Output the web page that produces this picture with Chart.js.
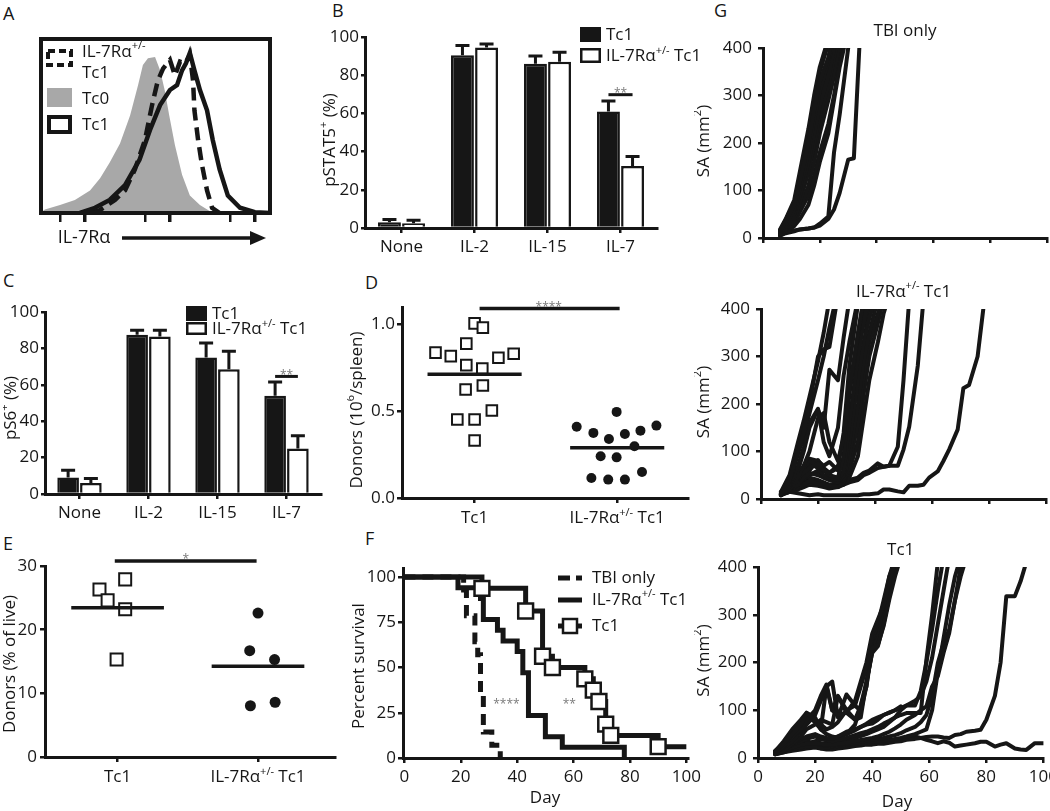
<!DOCTYPE html>
<html lang="en">
<head>
<meta charset="utf-8">
<title>IL-7Rα Tc1 figure</title>
<script src="https://cdn.jsdelivr.net/npm/chart.js@4.4.1/dist/chart.umd.min.js"></script>
<style>
  html, body { margin: 0; padding: 0; background: #fff; }
  body { position: relative; width: 1050px; height: 811px; overflow: hidden; font-family: 'Open Sans', sans-serif; color: #161616; }
  canvas { position: absolute; }
  .tag { position: absolute; font-size: 18px; line-height: 1; }
</style>
</head>
<body>
<div class="tag" style="left:3px;top:4px">A</div>
<div class="tag" style="left:332px;top:1px">B</div>
<div class="tag" style="left:3px;top:271px">C</div>
<div class="tag" style="left:365px;top:273px">D</div>
<div class="tag" style="left:3px;top:534px">E</div>
<div class="tag" style="left:365px;top:529px">F</div>
<div class="tag" style="left:714px;top:1px">G</div>

<canvas id="chartA"></canvas>
<canvas id="chartB"></canvas>
<canvas id="chartC"></canvas>
<canvas id="chartD"></canvas>
<canvas id="chartE"></canvas>
<canvas id="chartF"></canvas>
<canvas id="chartG1"></canvas>
<canvas id="chartG2"></canvas>
<canvas id="chartG3"></canvas>

<script>
// ---------- data ----------

// A: IL-7Rα histogram (x = % of plot width, y = % of mode)
const histTc0 = [[0,0.5],[1.7,2],[8.3,4.6],[14.8,7.5],[21.4,13],[25.8,20],[30,29],[34.5,40],[38.9,56],[42.4,73.5],[44.5,85],[46.7,89],[49.8,89.6],[52,82],[54,70.7],[56,56],[58.5,39],[61.6,22],[65,10],[69.4,4.6],[73.8,1],[82.5,0],[100,0]];
const histHet = [[22,0],[25.8,1.7],[32.3,7.5],[36.7,13],[41,25],[45.4,42],[48.5,62],[51,76],[53.3,83],[56.3,88],[58.5,79],[60.7,87],[63,86],[65,91],[66.4,76],[67,59],[68.6,42],[70.3,27.6],[72.5,13],[74.7,3],[78,0]];
const histTc1 = [[17,0],[23.6,3],[30,7.5],[36.7,16],[43,30.5],[47.6,47.7],[52,62],[56.3,70.7],[59.4,73.5],[61.6,82],[63.3,86],[65,92],[67,82],[69.4,70.7],[72.5,59],[75,42],[78,25],[81.6,10],[86.9,3],[93.4,0.5],[100,0]];
const histTicks = [8.3, 19.2, 45.4, 56.3, 82.5, 93.4];
const histMajor = [19.2, 56.3, 93.4];

// B / C: cytokine stimulation
const stimLabels = ['None', 'IL-2', 'IL-15', 'IL-7'];
const pstat5Tc1 = [3, 90.5, 86, 61];
const pstat5Tc1Sem = [1.5, 5, 4, 5.5];
const pstat5Het = [2.5, 94.5, 87, 32.5];
const pstat5HetSem = [1.5, 1.8, 5, 5];
const ps6Tc1 = [9, 87.5, 75, 54];
const ps6Tc1Sem = [4, 2.5, 8, 7.5];
const ps6Het = [6, 86.5, 68.5, 25];
const ps6HetSem = [2.5, 3.5, 10, 7];

// D: donors per spleen (10^6), [group position, value]
const spleenTc1 = [[1.0,1.006],[1.058,0.981],[0.942,0.889],[0.726,0.837],[0.833,0.817],[1.167,0.808],[1.274,0.831],[0.942,0.765],[1.054,0.746],[0.937,0.625],[1.058,0.648],[1.121,0.504],[0.879,0.452],[1.0,0.452],[1.0,0.331]];
const spleenHet = [[1.996,0.496],[1.716,0.41],[2.275,0.417],[1.833,0.375],[2.054,0.369],[2.163,0.388],[1.942,0.34],[2.121,0.298],[1.884,0.24],[1.996,0.234],[2.174,0.15],[1.819,0.115],[1.937,0.106],[2.054,0.106]];

// E: donors as % of live
const liveTc1 = [[0.871,26.3],[1.054,27.9],[0.929,24.6],[1.054,23.2],[0.993,15.3]];
const liveHet = [[2.0,22.6],[1.941,16.7],[2.118,15.3],[1.946,8.05],[2.122,8.6]];

// F: Kaplan-Meier steps [day, % surviving after the event]
const survTbi = [[0,100],[21,92.9],[22,78.6],[25,64.3],[26,57.1],[27,35.7],[28,14.3],[31,7.1],[34,0]];
const survHet = [[0,100],[19,94.1],[27,88.2],[28,76.5],[33,70.6],[35,64.7],[40,58.8],[42,47.1],[44,23.5],[50,11.8],[56,5.9],[78,0]];
const survTc1 = [[0,100],[27.5,93.75],[43,81.25],[49,56.25],[52.5,50],[64,43.75],[67,37.5],[69,31.25],[71.4,18.75],[73.2,12.5],[90,6.25],[100,6.25]];

// G: tumour surface area (mm2) per mouse
const tbiDays = [6, 8, 11, 13, 16, 18, 20, 23, 25, 27, 30, 32, 34];
const tbiMice = [
  [15, 35, 70, 120, 200, 270, 330, 380, 440],
  [12, 28, 60, 105, 180, 250, 310, 370, 420],
  [18, 40, 80, 140, 230, 300, 360, 420],
  [10, 22, 50, 90, 160, 220, 280, 340, 400, 450],
  [8, 18, 40, 75, 140, 200, 260, 320, 380, 430],
  [14, 30, 55, 95, 150, 190, 240, 300, 350, 410],
  [6, 14, 30, 60, 110, 160, 220, 290, 340, 400],
  [9, 20, 35, 55, 90, 130, 180, 240, 300, 370, 450],
  [5, 12, 25, 40, 70, 110, 160, 220, 290, 360, 440],
  [8, 12, 16, 18, 20, 22, 30, 45, 180, 260, 400],
  [5, 10, 14, 18, 20, 22, 26, 40, 60, 95, 165, 168, 410],
  [12, 25, 48, 85, 140, 190, 260, 330, 390, 430],
  [16, 38, 75, 130, 210, 290, 350, 410],
  [11, 24, 52, 100, 170, 240, 300, 350, 390, 440]
];
const hetDays = [7, 10, 13, 15, 17, 20, 22, 24, 27, 29, 31, 34, 36, 38, 41, 43, 45, 48, 50, 52, 55, 57, 59, 62, 64, 66, 69, 71, 73, 76, 78];
const hetMice = [
  [10, 40, 100, 140, 200, 300, 315, 320, 430],
  [15, 50, 120, 165, 215, 290, 350, 420],
  [12, 35, 95, 135, 180, 250, 300, 360, 440],
  [10, 30, 70, 110, 160, 190, 150, 272, 250, 340, 420],
  [8, 25, 60, 100, 150, 188, 120, 90, 150, 260, 330, 420],
  [10, 20, 45, 70, 100, 170, 181, 120, 80, 130, 230, 350, 420],
  [12, 25, 45, 55, 65, 75, 60, 55, 65, 140, 280, 410],
  [15, 30, 50, 65, 80, 70, 60, 50, 45, 90, 220, 340, 420],
  [10, 20, 40, 60, 75, 65, 50, 45, 40, 60, 160, 300, 370, 430],
  [8, 18, 30, 45, 55, 50, 45, 40, 35, 50, 120, 250, 330, 380, 440],
  [14, 22, 30, 42, 50, 60, 45, 40, 38, 40, 90, 200, 290, 350, 420],
  [10, 15, 25, 30, 38, 32, 30, 28, 25, 35, 70, 160, 260, 330, 390, 430],
  [12, 20, 22, 28, 32, 38, 32, 30, 30, 35, 60, 120, 220, 300, 370, 420],
  [8, 15, 20, 25, 30, 28, 25, 22, 25, 30, 45, 90, 170, 250, 330, 390, 430],
  [10, 18, 25, 30, 40, 35, 30, 28, 28, 30, 35, 40, 50, 55, 65, 68, 70, 110, 250, 420],
  [12, 20, 30, 35, 45, 40, 35, 30, 30, 35, 40, 45, 55, 60, 75, 68, 70, 70, 104, 152, 280, 420],
  [10, 15, 12, 10, 8, 10, 8, 8, 8, 8, 8, 8, 10, 10, 12, 20, 20, 16, 14, 28, 28, 30, 45, 58, 80, 104, 146, 233, 240, 300, 400],
  [10, 25, 50, 70, 85, 80, 70, 78, 60, 50, 70, 180, 310, 420],
  [8, 20, 35, 50, 60, 82, 65, 55, 70, 75, 150, 290, 400]
];
const tc1Days = [6, 9, 12, 15, 17, 20, 22, 24, 26, 28, 31, 34, 36, 38, 40, 42, 44, 46, 48, 50, 52, 55, 57, 59, 61, 63, 65, 67, 69, 71, 73, 76, 78, 80, 83, 85, 87, 90, 92, 94, 97, 100];
const tc1Mice = [
  [15, 30, 50, 70, 94, 80, 70, 60, 65, 75, 100, 110, 150, 190, 230, 237, 276, 332, 380, 420],
  [10, 25, 45, 60, 80, 100, 130, 154, 100, 90, 95, 120, 160, 200, 260, 290, 320, 360, 410],
  [12, 22, 35, 55, 70, 90, 120, 150, 160, 85, 133, 110, 98, 150, 250, 280, 330, 380, 420],
  [8, 15, 30, 45, 60, 70, 80, 75, 70, 129, 101, 80, 110, 160, 220, 234, 280, 340, 400, 430],
  [10, 20, 30, 40, 45, 50, 45, 42, 40, 45, 55, 60, 65, 72, 80, 85, 90, 95, 100, 108],
  [12, 20, 28, 35, 40, 45, 40, 38, 35, 38, 42, 48, 52, 55, 60, 65, 72, 78, 85, 90, 94, 94, 94, 206, 300, 410],
  [8, 15, 22, 28, 30, 32, 30, 28, 28, 30, 32, 35, 38, 40, 42, 45, 50, 55, 62, 70, 80, 90, 100, 108, 150, 171, 220, 262, 330, 400],
  [14, 20, 25, 30, 35, 30, 28, 26, 25, 28, 30, 32, 34, 36, 38, 40, 42, 45, 48, 52, 58, 65, 75, 90, 130, 199, 240, 269, 330, 380, 420],
  [10, 16, 20, 22, 25, 24, 20, 22, 24, 25, 28, 30, 30, 32, 34, 35, 36, 38, 40, 42, 45, 50, 55, 60, 100, 180, 250, 320, 380, 420],
  [12, 18, 24, 30, 28, 26, 30, 32, 34, 35, 38, 42, 46, 50, 55, 60, 65, 75, 85, 100, 110, 120, 130, 160, 210, 280, 350, 420],
  [8, 12, 15, 18, 20, 22, 20, 18, 18, 20, 22, 25, 26, 28, 28, 30, 30, 32, 34, 35, 38, 40, 42, 44, 45, 45, 43, 42, 48, 50, 55, 57, 59, 80, 130, 200, 339, 339, 370, 410],
  [10, 14, 18, 20, 22, 25, 22, 20, 20, 22, 25, 28, 30, 30, 32, 33, 35, 36, 38, 40, 42, 45, 42, 38, 35, 31, 35, 32, 24, 26, 28, 31, 34, 34, 24, 28, 31, 20, 18, 17, 31, 31],
  [14, 35, 60, 80, 95, 85, 60, 50, 45, 42, 50, 70, 110, 150, 230, 250, 310, 370, 420],
  [12, 28, 50, 70, 88, 75, 60, 150, 100, 130, 95, 80, 85, 160, 220, 280, 320, 380, 410],
  [8, 12, 18, 25, 30, 35, 38, 40, 42, 45, 50, 58, 65, 70, 72, 80, 90, 95, 100, 105, 110, 110, 140, 200, 270, 350, 420]
];

// ---------- shared look ----------
const INK = '#161616';
const FONT = "'Open Sans', 'DejaVu Sans', sans-serif";
const FS = 17;
const HET = ['IL-7Rα', { sup: '+/-' }, ' Tc1'];

Chart.defaults.font.family = FONT;
Chart.defaults.font.size = FS;
Chart.defaults.color = INK;
Chart.defaults.animation = false;
Chart.defaults.events = [];
Chart.defaults.plugins.legend.display = false;
Chart.defaults.plugins.tooltip.enabled = false;

// page boxes: chart area edges plus room for the y scale, x scale, top and right
const boxes = {
  A:  { l: 41,  t: 39,  r: 270,  b: 213, yW: 8,  xH: 40, padT: 8,  padR: 8, noY: true },
  B:  { l: 365, t: 37,  r: 657,  b: 228, yW: 46, xH: 40, padT: 14, padR: 45 },
  C:  { l: 45,  t: 312, r: 321,  b: 494, yW: 42, xH: 40, padT: 14, padR: 10 },
  D:  { l: 402, t: 307, r: 690,  b: 498, yW: 55, xH: 40, padT: 14, padR: 8 },
  E:  { l: 45,  t: 566, r: 338,  b: 757, yW: 45, xH: 40, padT: 14, padR: 8 },
  F:  { l: 403, t: 568, r: 689,  b: 758, yW: 53, xH: 50, padT: 14, padR: 16 },
  G1: { l: 763, t: 48,  r: 1047, b: 238, yW: 69, xH: 18, padT: 30, padR: 3 },
  G2: { l: 761, t: 309, r: 1046, b: 499, yW: 67, xH: 18, padT: 30, padR: 4 },
  G3: { l: 758, t: 567, r: 1046, b: 758, yW: 64, xH: 54, padT: 30, padR: 16 }
};

function mount(id, box) {
  const c = document.getElementById(id);
  const left = box.l - box.yW, top = box.t - box.padT;
  const w = box.r + box.padR - left, h = box.b + box.xH - top;
  Object.assign(c.style, { left: left + 'px', top: top + 'px', width: w + 'px', height: h + 'px' });
  c.width = w;
  c.height = h;
  return c;
}

function baseOptions(box) {
  return {
    responsive: false,
    devicePixelRatio: 1,
    layout: { padding: { top: box.padT, right: box.padR, left: box.noY ? box.yW : 0, bottom: 0 } }
  };
}

function yAxis(box, o) {
  return {
    type: 'linear', position: 'left', min: o.min, max: o.max,
    afterFit: s => { s.width = box.yW; },
    border: { color: INK, width: 3 },
    grid: { drawOnChartArea: false, color: INK, lineWidth: 2.5, tickLength: o.tick || 5 },
    ticks: { stepSize: o.step, includeBounds: false, padding: o.gap || 2, color: INK, font: { size: FS }, callback: o.fmt || (v => v) }
  };
}

function xLinear(box, o) {
  return {
    type: 'linear', position: 'bottom', min: o.min, max: o.max,
    afterFit: s => { s.height = box.xH; },
    afterBuildTicks: o.at ? (s => { s.ticks = o.at.map(v => ({ value: v })); }) : undefined,
    border: { color: INK, width: 3 },
    grid: { drawOnChartArea: false, color: INK, lineWidth: 2.5, tickLength: 5 },
    ticks: { display: o.labels !== false, stepSize: o.step, includeBounds: false, padding: 4, maxRotation: 0, color: INK, font: { size: FS } }
  };
}

const toXY = p => ({ x: p[0], y: p[1] });

// draw in page coordinates on a chart canvas
function onPage(chart, fn) {
  const ctx = chart.ctx;
  ctx.save();
  ctx.translate(-chart.canvas.offsetLeft, -chart.canvas.offsetTop);
  fn(ctx);
  ctx.restore();
}

// text with optional superscript parts
function richText(ctx, parts, x, y, opts = {}) {
  const size = opts.size || FS;
  const supSize = Math.round(size * 0.62);
  const segs = parts.map(p => typeof p === 'string'
    ? { t: p, s: size, dy: 0 }
    : { t: p.sup, s: supSize, dy: -size * 0.36 });
  ctx.save();
  ctx.translate(x, y);
  if (opts.rot) ctx.rotate(opts.rot);
  ctx.fillStyle = opts.color || INK;
  ctx.textBaseline = 'middle';
  ctx.textAlign = 'left';
  let total = 0;
  segs.forEach(g => { ctx.font = g.s + 'px ' + FONT; g.w = ctx.measureText(g.t).width; total += g.w; });
  let cx = opts.align === 'left' ? 0 : opts.align === 'right' ? -total : -total / 2;
  segs.forEach(g => { ctx.font = g.s + 'px ' + FONT; ctx.fillText(g.t, cx, g.dy); cx += g.w; });
  ctx.restore();
}

const UP = -Math.PI / 2;

function stars(ctx, text, x, y) {
  richText(ctx, [text], x, y, { size: 12, color: '#7a7a7a' });
}

// error bars above each bar
const errorBars = {
  id: 'errorBars',
  afterDatasetsDraw(chart) {
    const ctx = chart.ctx, y = chart.scales.y;
    ctx.save();
    ctx.strokeStyle = INK;
    ctx.lineWidth = 3;
    chart.data.datasets.forEach((ds, i) => {
      chart.getDatasetMeta(i).data.forEach((bar, j) => {
        const top = y.getPixelForValue(ds.data[j] + ds.sem[j]);
        ctx.beginPath();
        ctx.moveTo(bar.x, bar.y);
        ctx.lineTo(bar.x, top);
        ctx.moveTo(bar.x - 7, top);
        ctx.lineTo(bar.x + 7, top);
        ctx.stroke();
      });
    });
    ctx.restore();
  }
};

// significance bar across the IL-7 pair
function barSig(chart, cat, value, text) {
  const a = chart.getDatasetMeta(0).data[cat], b = chart.getDatasetMeta(1).data[cat];
  const yy = chart.scales.y.getPixelForValue(value);
  const ctx = chart.ctx;
  ctx.save();
  ctx.strokeStyle = INK;
  ctx.lineWidth = 3;
  ctx.beginPath();
  ctx.moveTo(a.x, yy);
  ctx.lineTo(b.x, yy);
  ctx.stroke();
  ctx.restore();
  stars(ctx, text, (a.x + b.x) / 2, yy - 1);
}

function sigLine(chart, x0, x1, value, text, tx) {
  const xs = chart.scales.x, ys = chart.scales.y, ctx = chart.ctx;
  const yy = ys.getPixelForValue(value);
  ctx.save();
  ctx.strokeStyle = INK;
  ctx.lineWidth = 3.5;
  ctx.beginPath();
  ctx.moveTo(xs.getPixelForValue(x0), yy);
  ctx.lineTo(xs.getPixelForValue(x1), yy);
  ctx.stroke();
  ctx.restore();
  stars(ctx, text, xs.getPixelForValue(tx), yy - 1);
}

function barLegend(ctx, x, y1, y2, h2) {
  ctx.fillStyle = INK;
  ctx.fillRect(x, y1, 21, 15);
  ctx.strokeStyle = INK;
  ctx.lineWidth = 2.5;
  ctx.strokeRect(x + 1.25, y2 + 1.25, 18.5, h2 - 2.5);
  richText(ctx, ['Tc1'], x + 26, y1 + 8, { align: 'left' });
  richText(ctx, HET, x + 26, y2 + h2 / 2 + 1, { align: 'left' });
}

// ---------- A: histogram ----------
new Chart(mount('chartA', boxes.A), {
  type: 'line',
  data: {
    datasets: [
      { data: histTc0.map(toXY), fill: 'origin', backgroundColor: '#a8a8a8', borderWidth: 0, pointRadius: 0, order: 3 },
      { data: histHet.map(toXY), borderColor: INK, borderWidth: 4.5, borderDash: [13, 7], pointRadius: 0, fill: false, order: 2 },
      { data: histTc1.map(toXY), borderColor: INK, borderWidth: 4.5, pointRadius: 0, fill: false, order: 1 }
    ]
  },
  options: {
    ...baseOptions(boxes.A),
    scales: {
      x: {
        type: 'linear', min: 0, max: 100,
        afterFit: s => { s.height = boxes.A.xH; },
        afterBuildTicks: s => { s.ticks = histTicks.map(v => ({ value: v })); },
        border: { display: false },
        grid: { drawOnChartArea: false, color: INK, tickLength: 9, lineWidth: c => histMajor.includes(c.tick && c.tick.value) ? 3.5 : 2.5 },
        ticks: { display: false }
      },
      y: { display: false, min: 0, max: 100 }
    }
  },
  plugins: [{
    id: 'decoA',
    afterDraw(chart) {
      const a = chart.chartArea;
      const ctx = chart.ctx;
      ctx.save();
      ctx.strokeStyle = INK;
      ctx.lineWidth = 4;
      ctx.strokeRect(a.left, a.top, a.right - a.left, a.bottom - a.top);
      ctx.restore();
      onPage(chart, c => {
        c.strokeStyle = INK;
        c.lineWidth = 4;
        c.setLineDash([7, 4]);
        c.strokeRect(48, 51, 23, 14);
        c.setLineDash([]);
        richText(c, ['IL-7Rα', { sup: '+/-' }], 82, 52, { align: 'left' });
        richText(c, ['Tc1'], 82, 73, { align: 'left' });
        c.fillStyle = '#a8a8a8';
        c.fillRect(47, 88, 25, 19);
        richText(c, ['Tc0'], 82, 99, { align: 'left' });
        c.strokeRect(49, 117, 21, 15);
        richText(c, ['Tc1'], 82, 125, { align: 'left' });
        richText(c, ['IL-7Rα'], 84, 238, { size: 18 });
        c.lineWidth = 3.5;
        c.beginPath();
        c.moveTo(122, 238);
        c.lineTo(252, 238);
        c.stroke();
        c.fillStyle = INK;
        c.beginPath();
        c.moveTo(266, 238);
        c.lineTo(250, 231);
        c.lineTo(250, 245);
        c.closePath();
        c.fill();
      });
    }
  }]
});

// ---------- B / C: bar charts ----------
function barChart(id, box, tc1, tc1Sem, het, hetSem, sigValue, title, legendPos) {
  new Chart(mount(id, box), {
    type: 'bar',
    data: {
      labels: stimLabels,
      datasets: [
        { data: tc1, sem: tc1Sem, backgroundColor: INK, borderColor: INK, borderWidth: 2.5 },
        { data: het, sem: hetSem, backgroundColor: '#fff', borderColor: INK, borderWidth: 2.5 }
      ]
    },
    options: {
      ...baseOptions(box),
      datasets: { bar: { categoryPercentage: 0.66, barPercentage: 0.95 } },
      scales: {
        x: {
          type: 'category',
          afterFit: s => { s.height = box.xH; },
          border: { color: INK, width: 3 },
          grid: { offset: false, drawOnChartArea: false, color: INK, lineWidth: 2.5, tickLength: 5 },
          ticks: { padding: 4, color: INK, font: { size: FS } }
        },
        y: yAxis(box, { min: 0, max: 100, step: 20, tick: 4, gap: 2 })
      }
    },
    plugins: [errorBars, {
      id: 'decoBar',
      afterDraw(chart) {
        barSig(chart, 3, sigValue, '**');
        onPage(chart, c => {
          richText(c, title.parts, title.x, title.y, { rot: UP });
          barLegend(c, legendPos.x, legendPos.y1, legendPos.y2, legendPos.h2);
        });
      }
    }]
  });
}

barChart('chartB', boxes.B, pstat5Tc1, pstat5Tc1Sem, pstat5Het, pstat5HetSem, 69.8,
  { parts: ['pSTAT5', { sup: '+' }, ' (%)'], x: 330, y: 140 },
  { x: 580, y1: 27, y2: 48, h2: 15 });
barChart('chartC', boxes.C, ps6Tc1, ps6Tc1Sem, ps6Het, ps6HetSem, 64.6,
  { parts: ['pS6', { sup: '+' }, ' (%)'], x: 11, y: 408 },
  { x: 186, y1: 306, y2: 322, h2: 13 });

// ---------- D / E: dot plots ----------
const meanOf = pts => pts.reduce((s, p) => s + p[1], 0) / pts.length;

function meanLine(pts, centre) {
  const m = meanOf(pts);
  return { data: [{ x: centre - 0.33, y: m }, { x: centre + 0.33, y: m }], showLine: true, borderColor: INK, borderWidth: 3.5, pointRadius: 0, order: 0 };
}

function dotChart(id, box, tc1, het, xr, yo, sq, dot, sig, title) {
  new Chart(mount(id, box), {
    type: 'scatter',
    data: {
      datasets: [
        { data: tc1.map(toXY), pointStyle: 'rect', pointRadius: sq, pointBackgroundColor: '#fff', pointBorderColor: INK, pointBorderWidth: 2, order: 1 },
        { data: het.map(toXY), pointStyle: 'circle', pointRadius: dot, pointBackgroundColor: INK, pointBorderColor: INK, pointBorderWidth: 0, order: 1 },
        meanLine(tc1, 1),
        meanLine(het, 2)
      ]
    },
    options: {
      ...baseOptions(box),
      scales: {
        x: xLinear(box, { min: xr[0], max: xr[1], at: [1, 2], labels: false }),
        y: yAxis(box, yo)
      }
    },
    plugins: [{
      id: 'decoDot',
      afterDraw(chart) {
        sigLine(chart, sig.from, sig.to, sig.value, sig.text, sig.tx);
        const xs = chart.scales.x, ly = chart.chartArea.bottom + 20.5;
        richText(chart.ctx, ['Tc1'], xs.getPixelForValue(1), ly);
        richText(chart.ctx, HET, xs.getPixelForValue(2), ly);
        onPage(chart, c => richText(c, title.parts, title.x, title.y, { rot: UP }));
      }
    }]
  });
}

dotChart('chartD', boxes.D, spleenTc1, spleenHet, [0.491, 2.5],
  { min: 0, max: 1.1, step: 0.5, tick: 5, gap: 2, fmt: v => v.toFixed(1) }, 7.5, 5,
  { from: 1.035, to: 2.017, value: 1.092, text: '****', tx: 1.52 },
  { parts: ['Donors (10', { sup: '6' }, '/spleen)'], x: 357, y: 410 });
dotChart('chartE', boxes.E, liveTc1, liveHet, [0.483, 2.552],
  { min: 0, max: 30, step: 10, tick: 5, gap: 3 }, 8.5, 5.5,
  { from: 0.98, to: 1.99, value: 30.8, text: '*', tx: 1.485 },
  { parts: ['Donors (% of live)'], x: 10, y: 664 });

// ---------- F: survival ----------
new Chart(mount('chartF', boxes.F), {
  type: 'line',
  data: {
    datasets: [
      { data: survTbi.map(toXY), stepped: true, borderColor: INK, borderWidth: 5, borderDash: [11, 7], pointRadius: 0, order: 3 },
      { data: survHet.map(toXY), stepped: true, borderColor: INK, borderWidth: 5, pointRadius: 0, order: 2 },
      { data: survTc1.map(toXY), stepped: true, borderColor: INK, borderWidth: 5, order: 1,
        pointStyle: 'rect', pointBackgroundColor: '#fff', pointBorderColor: INK, pointBorderWidth: 2.5,
        pointRadius: c => (c.dataIndex === 0 || c.dataIndex === survTc1.length - 1) ? 0 : 10.5 }
    ]
  },
  options: {
    ...baseOptions(boxes.F),
    scales: {
      x: xLinear(boxes.F, { min: -0.5, max: 100.5, step: 20 }),
      y: yAxis(boxes.F, { min: 0, max: 105, step: 25, tick: 5, gap: 2 })
    }
  },
  plugins: [{
    id: 'decoF',
    afterDraw(chart) {
      const xs = chart.scales.x, ys = chart.scales.y;
      stars(chart.ctx, '****', xs.getPixelForValue(36.2), ys.getPixelForValue(31) + 3);
      stars(chart.ctx, '**', xs.getPixelForValue(58.5), ys.getPixelForValue(31) + 3);
      onPage(chart, c => {
        c.strokeStyle = INK;
        c.lineWidth = 5;
        c.setLineDash([12, 6]);
        c.beginPath(); c.moveTo(558, 578); c.lineTo(582, 578); c.stroke();
        c.setLineDash([]);
        c.beginPath(); c.moveTo(558, 600); c.lineTo(582, 600); c.stroke();
        c.beginPath(); c.moveTo(558, 626); c.lineTo(582, 626); c.stroke();
        c.fillStyle = '#fff';
        c.lineWidth = 2.5;
        c.fillRect(563, 619, 14, 14);
        c.strokeRect(563, 619, 14, 14);
        richText(c, ['TBI only'], 592, 578, { align: 'left' });
        richText(c, HET, 592, 600, { align: 'left' });
        richText(c, ['Tc1'], 592, 626, { align: 'left' });
        richText(c, ['Percent survival'], 359, 666, { rot: UP });
        richText(c, ['Day'], 545, 798);
      });
    }
  }]
});

// ---------- G: tumour growth ----------
function growthChart(id, box, days, mice, title, showDays) {
  new Chart(mount(id, box), {
    type: 'line',
    data: {
      datasets: mice.map(vals => ({
        data: vals.map((v, i) => ({ x: days[i], y: v })),
        borderColor: INK, borderWidth: 4, pointRadius: 0, fill: false,
        borderJoinStyle: 'round', borderCapStyle: 'round'
      }))
    },
    options: {
      ...baseOptions(box),
      scales: {
        x: xLinear(box, { min: 0, max: 100, step: 20, labels: showDays }),
        y: yAxis(box, { min: 0, max: 400, step: 100, tick: 5, gap: 6 })
      }
    },
    plugins: [{
      id: 'decoG',
      afterDraw(chart) {
        const a = chart.chartArea;
        richText(chart.ctx, title, (a.left + a.right) / 2, a.top - 17);
        onPage(chart, c => {
          richText(c, ['SA (mm', { sup: '2' }, ')'], 704, (box.t + box.b) / 2 - 2, { rot: UP });
          if (showDays) richText(c, ['Day'], 897, 802);
        });
      }
    }]
  });
}

growthChart('chartG1', boxes.G1, tbiDays, tbiMice, ['TBI only'], false);
growthChart('chartG2', boxes.G2, hetDays, hetMice, HET, false);
growthChart('chartG3', boxes.G3, tc1Days, tc1Mice, ['Tc1'], true);
</script>
</body>
</html>
